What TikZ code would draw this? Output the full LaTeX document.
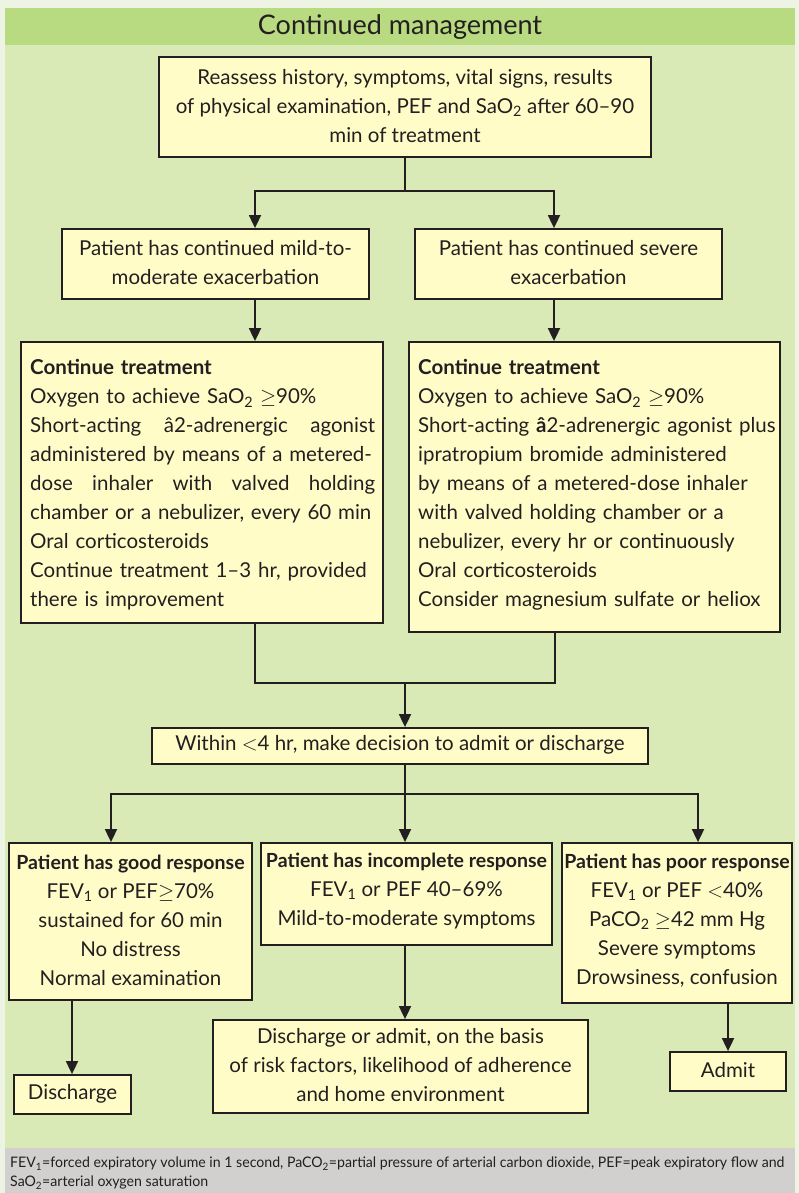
\documentclass[tikz,border=0pt]{standalone}
\usepackage{fontspec}
\setmainfont{Lato}
\newfontfamily\footfont[FakeStretch=0.975]{Lato}
\usetikzlibrary{arrows.meta}
\definecolor{pageback}{HTML}{EDF4E3}
\definecolor{headgreen}{HTML}{B8DA80}
\definecolor{panelgreen}{HTML}{D9EAB6}
\definecolor{boxyellow}{HTML}{FFFCC8}
\definecolor{footgray}{HTML}{D2D0CE}
\definecolor{ink}{HTML}{231F20}
\newcommand{\jl}[1]{\leavevmode\hbox to 345pt{#1}}
\newcommand{\sub}[1]{\textsubscript{#1}}
\newcommand{\hd}[1]{{\fontsize{19.5}{29}\selectfont\bfseries #1}}
\begin{document}
\begin{tikzpicture}[x=1pt,y=-1pt,
  box/.style={draw=ink, line width=1.8pt, fill=boxyellow, inner sep=0pt},
  txt/.style={text=ink, inner sep=0pt, font=\fontsize{20.5}{29}\selectfont},
  conn/.style={draw=ink, line width=1.8pt},
  arr/.style={conn, -{Triangle[length=13pt,width=12pt]}},
  ]
\useasboundingbox (0,0) rectangle (799,1193);
\fill[pageback] (0,0) rectangle (799,1193);
\fill[headgreen] (5,8) rectangle (795,45);
\fill[panelgreen] (5,45) rectangle (795,1148);
\fill[footgray] (5,1148) rectangle (795,1193);
\node[txt, font=\fontsize{27}{30}\selectfont] (title) at (400,27) {Continued management};

% top box
\node[box, minimum width=492pt, minimum height=100pt] (top) at (405,107) {};
\node[txt, align=center] (topt) at (405,106) {Reassess history, symptoms, vital signs, results\\of physical examination, PEF and SaO\sub{2} after 60--90\\min of treatment};

% second row
\node[box, minimum width=307pt, minimum height=70pt] (b2L) at (215.5,264) {};
\node[txt, align=center] (b2Lt) at (215.5,263) {Patient has continued mild-to-\\moderate exacerbation};
\node[box, minimum width=307pt, minimum height=70pt] (b2R) at (568.5,264) {};
\node[txt, align=center] (b2Rt) at (568.5,263) {Patient has continued severe\\exacerbation};

% third row
\node[box, minimum width=362pt, minimum height=281pt] (b3L) at (202,482.5) {};
\node[txt, anchor=north west, text width=345pt, align=left] (b3Lt) at (30,359.5) {\textbf{Continue treatment}\\
Oxygen to achieve SaO\sub{2} $\geq$90\%\\
\jl{Short-acting\hfil â2-adrenergic\hfil agonist}\\
\jl{administered by means of a metered-}\\
\jl{dose\hfil inhaler\hfil with\hfil valved\hfil holding}\\
chamber or a nebulizer, every 60 min\\
Oral corticosteroids\\
\jl{Continue treatment 1--3 hr, provided}\\
there is improvement};
\node[box, minimum width=371pt, minimum height=290pt] (b3R) at (594.5,487) {};
\node[txt, anchor=north west, text width=360pt, align=left] (b3Rt) at (418,359.5) {\textbf{Continue treatment}\\
Oxygen to achieve SaO\sub{2} $\geq$90\%\\
Short-acting \textbf{â}2-adrenergic agonist plus\\
ipratropium bromide administered\\
by means of a metered-dose inhaler\\
with valved holding chamber or a\\
nebulizer, every hr or continuously\\
Oral corticosteroids\\
Consider magnesium sulfate or heliox};

% decision
\node[box, minimum width=496pt, minimum height=36pt] (dec) at (400,746) {};
\node[txt] (dect) at (400,745) {Within $<$4 hr, make decision to admit or discharge};

% outcomes
\node[box, minimum width=243pt, minimum height=157pt] (good) at (130.5,921.5) {};
\node[txt, align=center] (goodt) at (130.5,920.5) {\hd{Patient has good response}\\FEV\sub{1} or PEF$\geq$70\%\\sustained for 60 min\\No distress\\Normal examination};
\node[box, minimum width=291pt, minimum height=102pt] (inc) at (406.5,894) {};
\node[txt, align=center] (inct) at (406.5,891) {\hd{Patient has incomplete response}\\FEV\sub{1} or PEF 40--69\%\\Mild-to-moderate symptoms};
\node[box, minimum width=230pt, minimum height=160pt] (poor) at (677,923) {};
\node[txt, align=center] (poort) at (677,920.5) {\hd{Patient has poor response}\\FEV\sub{1} or PEF $<$40\%\\PaCO\sub{2} $\geq$42 mm Hg\\Severe symptoms\\Drowsiness, confusion};

% final
\node[box, minimum width=117pt, minimum height=39pt] (dis) at (72.5,1094.5) {};
\node[txt] (dist) at (72.5,1093.5) {Discharge};
\node[box, minimum width=375pt, minimum height=93pt] (mid) at (400.5,1066.5) {};
\node[txt, align=center] (midt) at (400.5,1065.5) {Discharge or admit, on the basis\\of risk factors, likelihood of adherence\\and home environment};
\node[box, minimum width=116pt, minimum height=39pt] (adm) at (728,1071.5) {};
\node[txt] (admt) at (728,1070.5) {Admit};

% footnote
\node[anchor=north west, inner sep=0pt, text=ink, align=left, font=\footfont\fontsize{14.5}{19}\selectfont] (foot) at (10,1157) {FEV\sub{1}=forced expiratory volume in 1 second, PaCO\sub{2}=partial pressure of arterial carbon dioxide, PEF=peak expiratory flow and\\SaO\sub{2}=arterial oxygen saturation};

% connectors
\coordinate (j1) at (405,191);
\draw[conn] (top.south) -- (j1);
\draw[arr] (j1) -| (255,0 |- b2L.north);
\draw[arr] (j1) -| (554,0 |- b2R.north);
\draw[arr] (255,0 |- b2L.south) -- (255,0 |- b3L.north);
\draw[arr] (554,0 |- b2R.south) -- (554,0 |- b3R.north);
\coordinate (j2) at (405,683);
\draw[conn] (255,0 |- b3L.south) |- (j2);
\draw[conn] (555,0 |- b3R.south) |- (j2);
\draw[arr] (j2) -- (405,0 |- dec.north);
\coordinate (j3) at (405,794);
\draw[conn] (405,0 |- dec.south) -- (j3);
\draw[arr] (j3) -| (111,0 |- good.north);
\draw[arr] (j3) -- (405,0 |- inc.north);
\draw[arr] (j3) -| (698,0 |- poor.north);
\draw[arr] (72,0 |- good.south) -- (72,0 |- dis.north);
\draw[arr] (405,0 |- inc.south) -- (405,0 |- mid.north);
\draw[arr] (728,0 |- poor.south) -- (728,0 |- adm.north);
\end{tikzpicture}
\end{document}
